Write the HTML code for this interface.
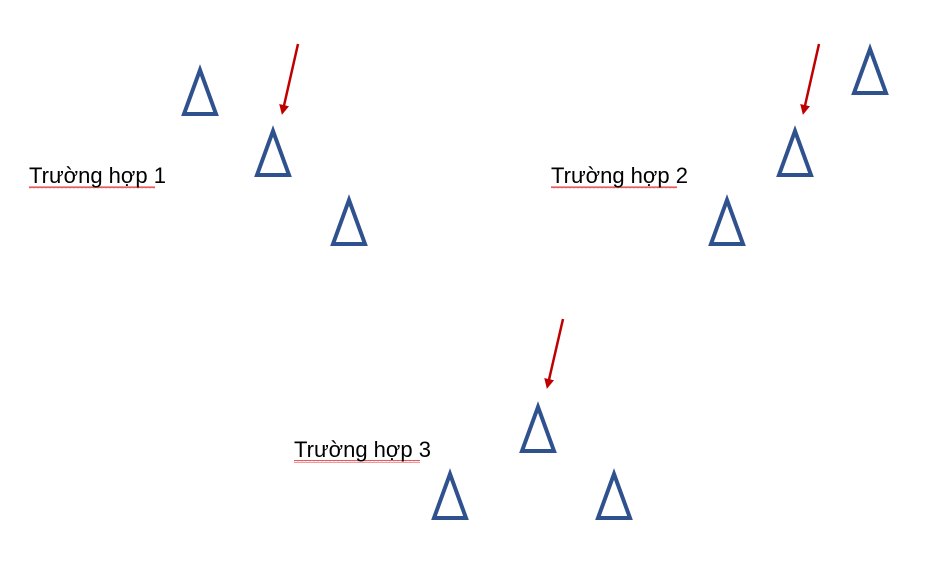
<!DOCTYPE html>
<html><head><meta charset="utf-8"><style>
html,body{margin:0;padding:0;background:#fff;}
#c{position:relative;width:929px;height:573px;overflow:hidden;}
.lbl{position:absolute;font-family:"Liberation Sans",sans-serif;font-size:22px;color:#000;line-height:1;white-space:nowrap;}
</style></head><body>
<div id="c">
<svg width="929" height="573" style="position:absolute;left:0;top:0">
<defs>
<marker id="ah" markerWidth="4" markerHeight="4" refX="2" refY="2" orient="auto" markerUnits="strokeWidth"><path d="M0,0 L4,2 L0,4 z" fill="#C00000"/></marker>
<pattern id="wave" width="4" height="3" patternUnits="userSpaceOnUse"><path d="M0,2 L1,0.5 L2,2 L3,0.5 L4,2" stroke="#e03030" stroke-width="0.8" fill="none"/></pattern>
</defs>
<g id="tris" fill="none" stroke="#2F528F" stroke-width="4" stroke-linejoin="miter"></g>
<g id="arrows" stroke="#C00000" stroke-width="2.5"></g>
<rect x="29" y="186" width="126" height="3" fill="url(#wave)"/>
<rect x="551" y="186" width="126" height="3" fill="url(#wave)"/>
<rect x="294" y="460" width="126" height="3" fill="url(#wave)"/>
</svg>
<div class="lbl" style="left:29px;top:165px">Trường hợp 1</div>
<div class="lbl" style="left:551px;top:165px">Trường hợp 2</div>
<div class="lbl" style="left:294px;top:439px">Trường hợp 3</div>
</div>
<script>
const triCx=[200,273,349,870,795,727,538,450,614];
const triTop=[70,131,200,49,131,200,407,474,474];
const arrowStart=[[298,44],[819,44],[563,319]];
const arrowEnd=[[283,110],[804,110],[548,384]];
const ns="http://www.w3.org/2000/svg";
const tg=document.getElementById('tris');
triCx.forEach((cx,i)=>{
  const t=triTop[i],b=t+44;
  const p=document.createElementNS(ns,'polygon');
  p.setAttribute('points',`${cx},${t} ${cx-16},${b} ${cx+16},${b}`);
  
  
  tg.appendChild(p);
});
const ag=document.getElementById('arrows');
arrowStart.forEach((s,i)=>{
  const l=document.createElementNS(ns,'line');
  l.setAttribute('x1',s[0]);l.setAttribute('y1',s[1]);
  l.setAttribute('x2',arrowEnd[i][0]);l.setAttribute('y2',arrowEnd[i][1]);
  l.setAttribute('marker-end','url(#ah)');
  
  
  ag.appendChild(l);
});
</script>
</body></html>
